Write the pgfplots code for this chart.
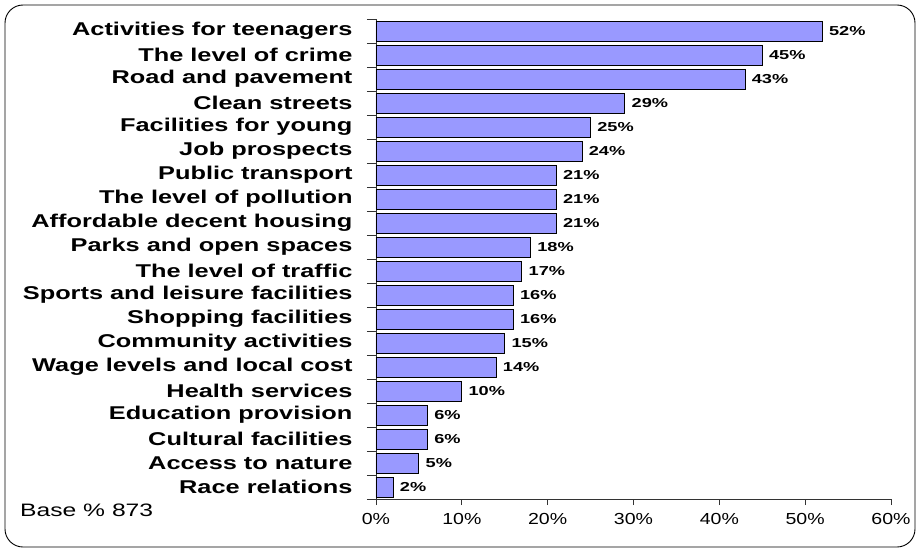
\documentclass[border=0pt]{standalone}
\usepackage{pgfplots}
\pgfplotsset{compat=1.18}
\usepackage{fontspec}
\setmainfont{Liberation Sans}
\newfontfamily\catfont[FakeStretch=1.37]{Liberation Sans}
\newfontfamily\valfont[FakeStretch=1.4]{Liberation Sans}
\newfontfamily\tickfont[FakeStretch=1.22]{Liberation Sans}
\definecolor{barfill}{RGB}{153,153,255}
\begin{document}
\begin{tikzpicture}
\path[use as bounding box] (0pt,0pt) rectangle (918pt,550pt);
\draw[black, line width=0.9pt, rounded corners=18pt] (5pt,3pt) rectangle (915pt,545pt);
\begin{axis}[
 at={(376pt,51pt)}, anchor=south west,
 scale only axis, width=515pt, height=480pt,
 xbar, bar width=20pt,
 xmin=0, xmax=60, ymin=0.5, ymax=20.5, y dir=reverse,
 axis x line*=bottom, axis y line*=left,
 axis line style={-, black!80, line width=0.8pt},
 xtick={0,10,...,60},
 xticklabel={\pgfmathprintnumber[assume math mode=true]{\tick}\%},
 ytick={1,...,20},
 yticklabels={Activities for teenagers, The level of crime, Road and pavement, Clean streets, Facilities for young, Job prospects, Public transport, The level of pollution, Affordable decent housing, Parks and open spaces, The level of traffic, Sports and leisure facilities, Shopping facilities, Community activities, Wage levels and local cost, Health services, Education provision, Cultural facilities\ , Access to nature, Race relations},
 minor ytick={0.5,1.5,...,20.5},
 tick align=outside,
 major tick length=6pt, minor tick length=9pt,
 major y tick style={draw=none},
 tick style={black!80, line width=0.8pt},
 xticklabel style={font=\tickfont\fontsize{16}{16}\selectfont, yshift=-5pt},
 yticklabel style={font=\catfont\bfseries\fontsize{18.5}{18.5}\selectfont, xshift=-14pt},
 nodes near coords={\pgfmathprintnumber[assume math mode=true]{\pgfplotspointmeta}\%},
 nodes near coords style={font=\valfont\bfseries\fontsize{13}{13}\selectfont, anchor=west, xshift=3pt},
 point meta=x,
]
\addplot[fill=barfill, draw=black, line width=0.9pt] coordinates {
(52,1) (45,2) (43,3) (29,4) (25,5) (24,6) (21,7) (21,8) (21,9) (18,10)
(17,11) (16,12) (16,13) (15,14) (14,15) (10,16) (6,17) (6,18) (5,19) (2,20)};
\end{axis}
\node[anchor=base west, font=\catfont\fontsize{18}{18}\selectfont, inner sep=0pt] at (20pt,34pt) {Base \% 873};
\end{tikzpicture}
\end{document}
